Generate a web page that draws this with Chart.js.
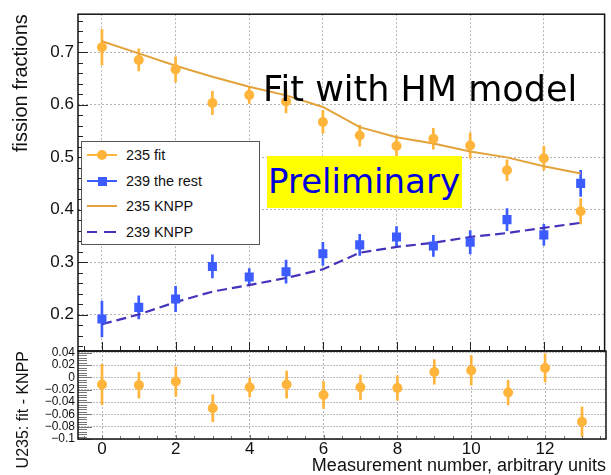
<!DOCTYPE html>
<html>
<head>
<meta charset="utf-8">
<script src="https://cdn.jsdelivr.net/npm/chart.js@4.4.1/dist/chart.umd.min.js"></script>
<style>
  body { margin: 0; background: #fff; }
  #wrap { position: relative; width: 611px; height: 475px; overflow: hidden; font-family: "Liberation Sans", Arial, sans-serif; }
  canvas { position: absolute; left: 0; top: 0; }
  #legend { position: absolute; left: 81px; top: 141px; width: 177px; height: 102px; border: 1px solid #555; background: #fff; z-index: 5; }
  .row { position: absolute; left: 0; width: 177px; height: 24px; }
  .row span { position: absolute; left: 44px; top: 3px; font-size: 14.4px; color: #111; line-height: 18px; }
  .ln { position: absolute; left: 5px; width: 30px; top: 11px; height: 2px; }
  .mk { position: absolute; }
  #fit { position: absolute; left: 263px; top: 71px; font-family: "DejaVu Sans", sans-serif; font-size: 35px; line-height: 36px; color: #000; white-space: nowrap; z-index: 4; }
  #prel { position: absolute; left: 267px; top: 156px; width: 195px; height: 52px; background: #ffff00; z-index: 4; }
  #prel span { position: absolute; left: 1px; top: 2px; font-family: "DejaVu Sans", sans-serif; font-size: 34px; line-height: 46px; color: #0000dd; white-space: nowrap; }
</style>
</head>
<body>
<div id="wrap">
  <canvas id="topChart" width="611" height="475"></canvas>
  <canvas id="bottomChart" width="611" height="475"></canvas>
  <div id="fit">Fit with HM model</div>
  <div id="prel"><span>Preliminary</span></div>
  <div id="legend">
    <div class="row" style="top:1px">
      <div class="ln" style="background:#ffb43c"></div>
      <div class="mk" style="left:15px;top:7px;width:10px;height:10px;border-radius:50%;background:#ffb43c"></div>
      <span>235 fit</span>
    </div>
    <div class="row" style="top:27px">
      <div class="ln" style="background:#3d5cff"></div>
      <div class="mk" style="left:16px;top:8px;width:9px;height:9px;background:#3d5cff"></div>
      <span>239 the rest</span>
    </div>
    <div class="row" style="top:52px">
      <div class="ln" style="background:#e3a33a"></div>
      <span>235 KNPP</span>
    </div>
    <div class="row" style="top:78px">
      <div class="ln" style="width:10px;background:#4433bb"></div>
      <div class="ln" style="left:22px;width:12px;background:#4433bb"></div>
      <span>239 KNPP</span>
    </div>
  </div>
</div>
<script>
// measurement index
const measurement = [0, 1, 2, 3, 4, 5, 6, 7, 8, 9, 10, 11, 12, 13];

// fitted fractions with errors
const fit235 = [0.709, 0.685, 0.667, 0.603, 0.618, 0.606, 0.567, 0.541, 0.521, 0.535, 0.522, 0.475, 0.498, 0.397];
const fit235Err = [0.034, 0.021, 0.024, 0.022, 0.016, 0.022, 0.022, 0.02, 0.02, 0.02, 0.024, 0.02, 0.023, 0.024];
const rest239 = [0.192, 0.214, 0.230, 0.292, 0.272, 0.282, 0.316, 0.333, 0.348, 0.331, 0.338, 0.381, 0.352, 0.450];
const rest239Err = [0.034, 0.022, 0.024, 0.022, 0.016, 0.022, 0.022, 0.02, 0.02, 0.02, 0.022, 0.021, 0.02, 0.025];

// KNPP curves
const knpp235 = [0.7205, 0.6975, 0.674, 0.653, 0.634, 0.6175, 0.5955, 0.557, 0.538, 0.526, 0.5105, 0.4995, 0.4825, 0.469];
const knpp239 = [0.182, 0.2005, 0.224, 0.244, 0.2565, 0.27, 0.2865, 0.318, 0.329, 0.337, 0.348, 0.3555, 0.3655, 0.375];

// lower panel: U235 fit - KNPP
const diff235 = [-0.0115, -0.0125, -0.0066, -0.05, -0.016, -0.0115, -0.0285, -0.016, -0.017, 0.009, 0.0115, -0.0245, 0.0155, -0.072];
const diff235Err = [0.033, 0.021, 0.024, 0.022, 0.016, 0.022, 0.022, 0.02, 0.02, 0.02, 0.024, 0.02, 0.023, 0.024];

// ticks
const xTicks = [0, 2, 4, 6, 8, 10, 12];
const yTopTicks = [0.2, 0.3, 0.4, 0.5, 0.6, 0.7];
const yLowTicks = [-0.1, -0.08, -0.06, -0.04, -0.02, 0, 0.02, 0.04];
const yLowLabels = ['\u22120.1', '\u22120.08', '\u22120.06', '\u22120.04', '\u22120.02', '0', '0.02', '0.04'];

const orange = '#ffb43c';
const blue = '#3d5cff';

function pts(ys) { return measurement.map((x, i) => ({ x: x, y: ys[i] })); }
function errs(ys, es) { return measurement.map((x, i) => ({ x: x, y: [ys[i] - es[i], ys[i] + es[i]] })); }

// frame + inward ticks like the original
const framePlugin = {
  id: 'frame',
  afterDraw(chart, args, o) {
    const { ctx, chartArea: a, scales } = chart;
    ctx.save();
    ctx.lineWidth = 1;
    ctx.strokeStyle = o.tickColor;
    const xs = scales.x, ys = scales.y;
    for (let v = Math.ceil(xs.min / o.xStep) * o.xStep; v <= xs.max; v += o.xStep) {
      const major = Math.abs(v / o.xMajor - Math.round(v / o.xMajor)) < 1e-6;
      const px = Math.round(xs.getPixelForValue(v)) + 0.5;
      ctx.beginPath();
      ctx.moveTo(px, a.bottom);
      ctx.lineTo(px, a.bottom - (major ? o.xLen[0] : o.xLen[1]));
      ctx.stroke();
    }
    for (let v = Math.ceil(ys.min / o.yStep) * o.yStep; v <= ys.max + 1e-9; v += o.yStep) {
      const major = Math.abs(v / o.yMajor - Math.round(v / o.yMajor)) < 1e-6;
      const py = Math.round(ys.getPixelForValue(v)) + 0.5;
      ctx.beginPath();
      ctx.moveTo(a.left, py);
      ctx.lineTo(a.left + (major ? o.yLen[0] : o.yLen[1]), py);
      ctx.stroke();
    }
    ctx.strokeStyle = '#111';
    ctx.lineWidth = 1.5;
    ctx.strokeRect(a.left, a.top, a.right - a.left, a.bottom - a.top);
    ctx.restore();
  }
};

const baseFont = "'Liberation Sans', Arial, sans-serif";

new Chart(document.getElementById('topChart'), {
  type: 'scatter',
  data: {
    datasets: [
      { type: 'scatter', data: pts(fit235), backgroundColor: orange, borderWidth: 0, pointStyle: 'circle', pointRadius: 5, order: 0 },
      { type: 'scatter', data: pts(rest239), backgroundColor: blue, borderWidth: 0, pointStyle: 'rect', pointRadius: 6.4, order: 0 },
      { type: 'line', data: pts(knpp235), borderColor: '#e3a33a', borderWidth: 2, pointRadius: 0, tension: 0, fill: false, order: 1 },
      { type: 'line', data: pts(knpp239), borderColor: '#4433bb', borderWidth: 2.2, borderDash: [10, 5], pointRadius: 0, tension: 0, fill: false, order: 1 },
      { type: 'bar', data: errs(fit235, fit235Err), backgroundColor: orange, barThickness: 2, grouped: false, order: 2 },
      { type: 'bar', data: errs(rest239, rest239Err), backgroundColor: blue, barThickness: 2, grouped: false, order: 2 }
    ]
  },
  options: {
    responsive: false,
    animation: false,
    devicePixelRatio: 1,
    layout: { padding: { left: 0, top: 8, right: 0, bottom: 124 } },
    plugins: {
      legend: { display: false },
      tooltip: { enabled: false },
      frame: { xStep: 0.5, xMajor: 2, xLen: [9, 5], yStep: 0.02, yMajor: 0.1, yLen: [10, 5], tickColor: '#222' }
    },
    scales: {
      x: {
        type: 'linear', min: -0.65, max: 13.65, offset: false,
        afterBuildTicks: s => { s.ticks = xTicks.map(v => ({ value: v })); },
        afterFit: s => { s.height = 0; },
        ticks: { display: false },
        grid: { color: '#b4b4b4', lineWidth: 1, drawTicks: false, offset: false },
        border: { display: false, dash: [2, 2] }
      },
      y: {
        type: 'linear', min: 0.131, max: 0.772,
        afterBuildTicks: s => { s.ticks = yTopTicks.map(v => ({ value: v })); },
        afterFit: s => { s.width = 78; },
        ticks: { padding: 4, autoSkip: false, color: '#111', font: { family: baseFont, size: 17 }, callback: v => v.toFixed(1) },
        grid: { color: '#b4b4b4', lineWidth: 1, drawTicks: false },
        border: { display: false, dash: [2, 2] },
        title: { display: true, text: 'fission fractions', align: 'end', color: '#111', font: { family: baseFont, size: 20, lineHeight: 1 }, padding: 11 }
      }
    }
  },
  plugins: [framePlugin]
});

new Chart(document.getElementById('bottomChart'), {
  type: 'scatter',
  data: {
    datasets: [
      { type: 'scatter', data: pts(diff235), backgroundColor: orange, borderWidth: 0, pointStyle: 'circle', pointRadius: 5, order: 0 },
      { type: 'bar', data: errs(diff235, diff235Err), backgroundColor: orange, barThickness: 2, grouped: false, order: 2 }
    ]
  },
  options: {
    responsive: false,
    animation: false,
    devicePixelRatio: 1,
    layout: { padding: { left: 0, top: 351, right: 1, bottom: 0 } },
    plugins: {
      legend: { display: false },
      tooltip: { enabled: false },
      frame: { xStep: 0.5, xMajor: 2, xLen: [4, 3], yStep: 0.004, yMajor: 0.02, yLen: [14, 9], tickColor: '#777' }
    },
    scales: {
      x: {
        type: 'linear', min: -0.65, max: 13.65, offset: false,
        afterBuildTicks: s => { s.ticks = xTicks.map(v => ({ value: v })); },
        afterFit: s => { s.height = 36; },
        ticks: { padding: 0, autoSkip: false, color: '#111', maxRotation: 0, font: { family: baseFont, size: 17 } },
        grid: { color: '#b4b4b4', lineWidth: 1, drawTicks: false, offset: false },
        border: { display: false, dash: [2, 2] },
        title: { display: true, text: 'Measurement number, arbitrary units', align: 'end', color: '#111', font: { family: baseFont, size: 18, lineHeight: 1 }, padding: 0 }
      },
      y: {
        type: 'linear', min: -0.1, max: 0.043,
        afterBuildTicks: s => { s.ticks = yLowTicks.map(v => ({ value: v })); },
        afterFit: s => { s.width = 78; },
        ticks: { padding: 3, autoSkip: false, color: '#111', font: { family: baseFont, size: 12 }, callback: (v, i) => yLowLabels[i] },
        grid: { color: '#bdbdbd', lineWidth: 1, drawTicks: false },
        border: { display: false, dash: [2, 1] },
        title: { display: true, text: 'U235: fit - KNPP', align: 'end', color: '#111', font: { family: baseFont, size: 16, lineHeight: 1 }, padding: 16 }
      }
    }
  },
  plugins: [framePlugin]
});
</script>
</body>
</html>
